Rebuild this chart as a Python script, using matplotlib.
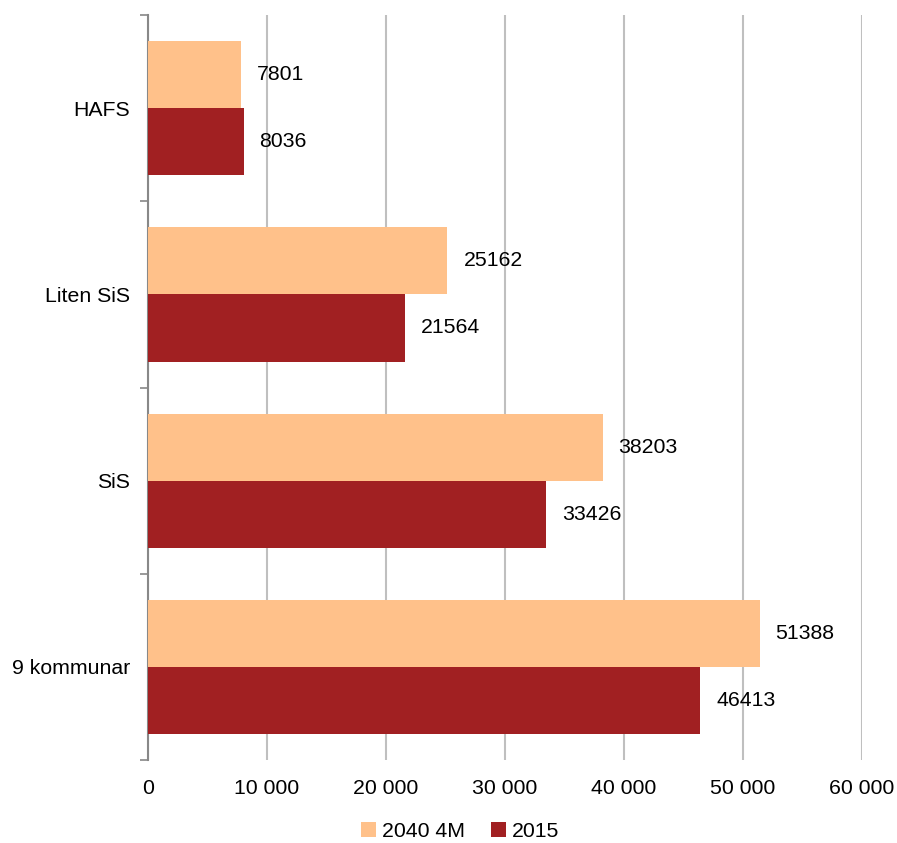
import matplotlib
matplotlib.use("Agg")
import matplotlib.pyplot as plt
import numpy as np
from matplotlib.ticker import FuncFormatter, FixedLocator

categories = ["HAFS", "Liten SiS", "SiS", "9 kommunar"]
series_2040 = [7801, 25162, 38203, 51388]
series_2015 = [8036, 21564, 33426, 46413]
series_names = ["2040 4M", "2015"]
xticks = [0, 10000, 20000, 30000, 40000, 50000, 60000]

plt.rcParams['font.family'] = ['Liberation Sans', 'DejaVu Sans']
FS = 15.3

fig = plt.figure(figsize=(8.97, 8.43), dpi=100)
ax = fig.add_axes([0.165, 0.0985, 0.796, 0.8835])

c_or = "#FFC18A"
c_red = "#A12022"
y = np.arange(len(categories))
h = 0.36
b1 = ax.barh(y - h/2, series_2040, height=h, color=c_or, label=series_names[0], zorder=3)
b2 = ax.barh(y + h/2, series_2015, height=h, color=c_red, label=series_names[1], zorder=3)

for bars, vals in ((b1, series_2040), (b2, series_2015)):
    for rect, v in zip(bars, vals):
        ax.annotate(str(v), (v, rect.get_y() + rect.get_height()/2),
                    xytext=(11.5, 0), textcoords="offset points",
                    va="center", ha="left", fontsize=FS, color="#000000")

ax.set_xlim(0, 60000)
ax.set_ylim(3.5, -0.5)
ax.set_xticks(xticks)
ax.xaxis.set_major_formatter(FuncFormatter(lambda v, p: f"{int(v):,}".replace(",", " ")))
ax.tick_params(axis='x', length=0, labelsize=FS, pad=14)
ax.grid(axis='x', color="#BFBFBF", linewidth=1.5, zorder=0)

ax.set_yticks(y)
ax.set_yticklabels(categories)
ax.tick_params(axis='y', which='major', length=0, labelsize=FS, pad=13)
ax.yaxis.set_minor_locator(FixedLocator([-0.5, 0.5, 1.5, 2.5, 3.5]))
ax.tick_params(axis='y', which='minor', length=6, width=1.2, color="#888888")

for s in ["top", "right", "bottom"]:
    ax.spines[s].set_visible(False)
ax.spines["left"].set_color("#888888")
ax.spines["left"].set_linewidth(1.5)

leg = fig.legend(handles=[b1, b2], labels=series_names, loc="center",
                 bbox_to_anchor=(0.513, 0.014), ncol=2, frameon=False,
                 fontsize=FS, handlelength=0.7, handleheight=0.7,
                 handletextpad=0.3, columnspacing=1.2)

fig.savefig("out.png", dpi=100)
